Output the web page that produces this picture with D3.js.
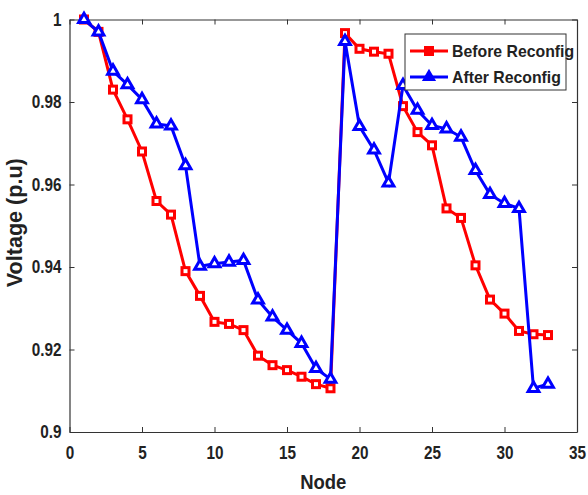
<!DOCTYPE html>
<html>
<head>
<meta charset="utf-8">
<script src="https://d3js.org/d3.v7.min.js"></script>
<style>
  body { margin: 0; background: #fff; }
  text { font-family: "Liberation Sans", Arial, sans-serif; font-weight: bold; fill: #222; }
</style>
</head>
<body>
<script>
var nodes = d3.range(1, 34);
var before = [1.0, 0.997, 0.983, 0.9758, 0.968, 0.956, 0.9527, 0.939, 0.933, 0.9267, 0.9262, 0.9247,
              0.9185, 0.9162, 0.915, 0.9134, 0.9116, 0.9106, 0.9967, 0.9929, 0.9922, 0.9917,
              0.979, 0.9727, 0.9695, 0.9542, 0.9519, 0.9404, 0.9321, 0.9287, 0.9245, 0.9237, 0.9235];
var after = [1.0, 0.997, 0.9875, 0.9842, 0.9806, 0.9747, 0.9742, 0.9646, 0.9402, 0.9408, 0.9412, 0.9416,
             0.932, 0.9279, 0.9247, 0.9215, 0.9154, 0.9128, 0.9947, 0.9741, 0.9684, 0.9604,
             0.984, 0.978, 0.9743, 0.9735, 0.9715, 0.9634, 0.9576, 0.9554, 0.9542, 0.9106, 0.9116];
var xTicks = [0, 5, 10, 15, 20, 25, 30, 35];
var yTicks = [0.9, 0.92, 0.94, 0.96, 0.98, 1];
var seriesNames = ['Before Reconfig', 'After Reconfig'];

var W = 588, H = 495;
var m = { left: 69.5, right: 11, top: 19.5, bottom: 63 };

var svg = d3.select('body').append('svg').attr('width', W).attr('height', H);

var x = d3.scaleLinear().domain([0, 35]).range([m.left, W - m.right]);
var y = d3.scaleLinear().domain([0.9, 1]).range([H - m.bottom, m.top]);

function squeeze(sel, k) {
    sel.each(function () {
        var w = this.getComputedTextLength();
        d3.select(this).attr('textLength', w * k).attr('lengthAdjust', 'spacingAndGlyphs');
    });
}

// axes (ticks inward, box)
var fmtY = function (d) { return d === 1 ? '1' : d3.format('.2f')(d).replace(/0$/, ''); };
var gx = svg.append('g').attr('transform', 'translate(0,' + (H - m.bottom) + ')')
    .call(d3.axisBottom(x).tickValues(xTicks).tickSizeInner(-5).tickSizeOuter(0).tickPadding(12));
var gy = svg.append('g').attr('transform', 'translate(' + m.left + ',0)')
    .call(d3.axisLeft(y).tickValues(yTicks).tickFormat(fmtY).tickSizeInner(-5).tickSizeOuter(0).tickPadding(8));
var gt = svg.append('g').attr('transform', 'translate(0,' + m.top + ')')
    .call(d3.axisTop(x).tickValues(xTicks).tickSizeInner(-5).tickSizeOuter(0).tickFormat(''));
var gr = svg.append('g').attr('transform', 'translate(' + (W - m.right) + ',0)')
    .call(d3.axisRight(y).tickValues(yTicks).tickSizeInner(-5).tickSizeOuter(0).tickFormat(''));

[gx, gy, gt, gr].forEach(function (g) {
    g.select('.domain').attr('stroke', '#333').attr('stroke-width', 1.2);
    g.selectAll('.tick line').attr('stroke', '#333');
    g.selectAll('.tick text').attr('font-size', 18).attr('font-family', '"Liberation Sans", Arial, sans-serif')
        .attr('font-weight', 'bold').attr('fill', '#222');
});
gx.selectAll('.tick text').attr('dy', '0.85em');
squeeze(gx.selectAll('.tick text'), 0.85);
squeeze(gy.selectAll('.tick text'), 0.85);

// axis titles
var xl = svg.append('text').attr('x', (m.left + W - m.right) / 2).attr('y', 489)
    .attr('text-anchor', 'middle').attr('font-size', 21).text('Node');
squeeze(xl, 0.88);
var yl = svg.append('text')
    .attr('transform', 'translate(22,' + ((m.top + H - m.bottom) / 2 - 3) + ') rotate(-90)')
    .attr('text-anchor', 'middle').attr('font-size', 22).text('Voltage (p.u)');
squeeze(yl, 0.98);

// series
var line = d3.line().x(function (d, i) { return x(nodes[i]); }).y(function (d) { return y(d); });
var tri = d3.symbol().type(d3.symbolTriangle).size(50);

svg.append('path').datum(before).attr('d', line)
    .attr('fill', 'none').attr('stroke', '#ff0000').attr('stroke-width', 3);
svg.append('g').selectAll('rect').data(before).join('rect')
    .attr('x', function (d, i) { return x(nodes[i]) - 3.5; })
    .attr('y', function (d) { return y(d) - 3.5; })
    .attr('width', 7).attr('height', 7)
    .attr('fill', '#fff').attr('stroke', '#ff0000').attr('stroke-width', 3);

svg.append('path').datum(after).attr('d', line)
    .attr('fill', 'none').attr('stroke', '#0000ff').attr('stroke-width', 3);
svg.append('g').selectAll('path').data(after).join('path')
    .attr('d', tri)
    .attr('transform', function (d, i) { return 'translate(' + x(nodes[i]) + ',' + y(d) + ')'; })
    .attr('fill', '#fff').attr('stroke', '#0000ff').attr('stroke-width', 3);

// legend
var lg = svg.append('g').attr('transform', 'translate(405,34)');
lg.append('rect').attr('width', 161).attr('height', 56)
    .attr('fill', '#fff').attr('stroke', '#333').attr('stroke-width', 1);
var colors = ['#ff0000', '#0000ff'];
seriesNames.forEach(function (name, i) {
    var row = lg.append('g').attr('transform', 'translate(0,' + (17 + i * 26) + ')');
    row.append('line').attr('x1', 5).attr('x2', 43).attr('y1', 0).attr('y2', 0)
        .attr('stroke', colors[i]).attr('stroke-width', 3);
    if (i === 0) {
        row.append('rect').attr('x', 20).attr('y', -4).attr('width', 8).attr('height', 8)
            .attr('fill', colors[i]).attr('stroke', colors[i]).attr('stroke-width', 2);
    } else {
        row.append('path').attr('d', tri).attr('transform', 'translate(24,0)')
            .attr('fill', colors[i]).attr('stroke', colors[i]).attr('stroke-width', 2);
    }
    var t = row.append('text').attr('x', 47).attr('y', 6).attr('font-size', 17).text(name);
    squeeze(t, 0.93);
});
</script>
</body>
</html>
